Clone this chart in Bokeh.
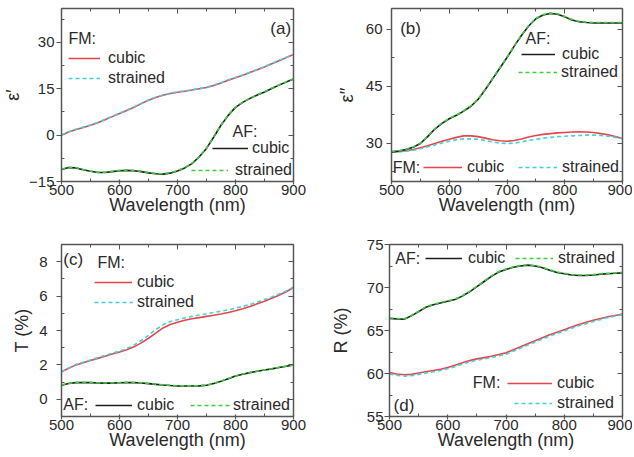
from bokeh.plotting import figure
from bokeh.layouts import column, row
from bokeh.models import (LinearAxis, FixedTicker, Legend, LegendItem, Label, Range1d,
                          CustomLabelingPolicy)
from bokeh.core.properties import value
from bokeh.embed import file_html
from bokeh.resources import INLINE

# ---------------- data ----------------
wavelength = [500, 512.5, 525, 537.5, 550, 562.5, 575, 587.5, 600, 612.5, 625, 637.5, 650, 662.5,
              675, 687.5, 700, 712.5, 725, 737.5, 750, 762.5, 775, 787.5, 800, 812.5, 825, 837.5,
              850, 862.5, 875, 887.5, 900]

eps1_fm_cubic = [0.0, 1.0, 1.8, 2.5, 3.2, 4.0, 5.0, 6.0, 7.0, 8.0, 9.0, 10.2, 11.3, 12.2, 12.9, 13.5,
                 13.9, 14.2, 14.6, 15.0, 15.4, 16.1, 16.9, 17.8, 18.6, 19.4, 20.3, 21.2, 22.1, 23.1,
                 24.1, 25.1, 26.1]
eps1_fm_strained = [0.1, 1.1, 1.9, 2.6, 3.3, 4.1, 5.1, 6.1, 7.1, 8.1, 9.1, 10.3, 11.4, 12.3, 13.0, 13.6,
                    14.0, 14.3, 14.7, 15.1, 15.5, 16.2, 17.0, 17.9, 18.7, 19.5, 20.4, 21.3, 22.2, 23.2,
                    24.2, 25.2, 26.1]
eps1_af_cubic = [-11.1, -10.5, -10.6, -11.2, -11.7, -12.1, -12.1, -11.8, -11.5, -11.4, -11.5, -11.8,
                 -12.2, -12.5, -12.6, -12.3, -11.6, -10.6, -9.2, -7.0, -4.3, -0.6, 3.2, 6.4, 9.0,
                 10.6, 11.9, 13.0, 14.0, 15.1, 16.2, 17.2, 18.2]
eps1_af_strained = [-11.0, -10.4, -10.5, -11.1, -11.6, -12.0, -12.0, -11.7, -11.4, -11.3, -11.4, -11.7,
                    -12.1, -12.4, -12.5, -12.2, -11.5, -10.5, -9.1, -6.9, -4.2, -0.5, 3.3, 6.5, 9.1,
                    10.7, 12.0, 13.1, 14.1, 15.2, 16.3, 17.3, 18.2]

eps2_fm_cubic = [27.8, 27.9, 28.1, 28.4, 28.9, 29.4, 30.0, 30.6, 31.1, 31.6, 32.0, 32.0, 31.8, 31.4,
                 31.0, 30.7, 30.6, 30.8, 31.2, 31.7, 32.1, 32.4, 32.6, 32.8, 32.9, 33.0, 33.1, 33.0,
                 32.9, 32.6, 32.3, 31.8, 31.3]
eps2_fm_strained = [27.7, 27.8, 28.0, 28.2, 28.6, 29.1, 29.6, 30.1, 30.6, 31.0, 31.2, 31.2, 31.1, 30.8,
                    30.4, 30.1, 30.0, 30.1, 30.4, 30.8, 31.1, 31.4, 31.6, 31.8, 31.9, 32.0, 32.1, 32.2,
                    32.2, 32.1, 31.9, 31.6, 31.3]
eps2_af_cubic = [27.8, 28.0, 28.4, 29.0, 30.0, 31.8, 33.8, 35.3, 36.5, 37.4, 38.5, 39.8, 41.6, 44.2,
                 47.0, 49.8, 52.6, 55.6, 58.4, 60.9, 62.8, 63.8, 64.2, 64.0, 63.3, 62.5, 62.0, 61.8,
                 61.7, 61.7, 61.7, 61.7, 61.7]
eps2_af_strained = [27.9, 28.1, 28.5, 29.1, 30.1, 31.9, 33.9, 35.4, 36.6, 37.5, 38.6, 39.9, 41.7, 44.3,
                    47.1, 49.9, 52.7, 55.7, 58.5, 61.0, 62.9, 63.9, 64.3, 64.1, 63.4, 62.6, 62.1, 61.9,
                    61.8, 61.8, 61.8, 61.8, 61.8]

T_fm_cubic = [1.6, 1.8, 2.0, 2.12, 2.25, 2.38, 2.5, 2.63, 2.75, 2.88, 3.05, 3.28, 3.55, 3.85, 4.15,
              4.35, 4.48, 4.6, 4.68, 4.75, 4.82, 4.89, 4.96, 5.05, 5.15, 5.27, 5.4, 5.55, 5.7, 5.87,
              6.05, 6.25, 6.5]
T_fm_strained = [1.6, 1.82, 2.03, 2.16, 2.29, 2.42, 2.55, 2.68, 2.8, 2.95, 3.15, 3.42, 3.72, 4.05,
                 4.33, 4.52, 4.63, 4.73, 4.82, 4.9, 4.97, 5.05, 5.12, 5.2, 5.3, 5.4, 5.52, 5.65, 5.8,
                 5.95, 6.12, 6.3, 6.52]
T_af_cubic = [0.82, 0.92, 0.97, 0.98, 0.97, 0.95, 0.94, 0.94, 0.96, 0.98, 0.97, 0.95, 0.91, 0.87,
              0.83, 0.8, 0.78, 0.77, 0.77, 0.78, 0.82, 0.92, 1.05, 1.2, 1.35, 1.46, 1.55, 1.63, 1.7,
              1.77, 1.85, 1.92, 2.0]
T_af_strained = [0.83, 0.93, 0.98, 0.99, 0.98, 0.96, 0.95, 0.95, 0.97, 0.99, 0.98, 0.96, 0.92, 0.88,
                 0.84, 0.81, 0.79, 0.78, 0.78, 0.79, 0.83, 0.93, 1.06, 1.21, 1.36, 1.47, 1.56, 1.64,
                 1.71, 1.78, 1.86, 1.93, 2.0]

R_fm_cubic = [60.1, 59.95, 59.85, 59.9, 60.05, 60.2, 60.35, 60.5, 60.7, 60.95, 61.25, 61.5, 61.7,
              61.85, 62.0, 62.2, 62.4, 62.75, 63.1, 63.45, 63.8, 64.15, 64.5, 64.8, 65.1, 65.4, 65.7,
              65.95, 66.2, 66.4, 66.6, 66.75, 66.9]
R_fm_strained = [59.95, 59.8, 59.7, 59.75, 59.9, 60.05, 60.2, 60.35, 60.55, 60.8, 61.1, 61.35, 61.55,
                 61.7, 61.85, 62.05, 62.25, 62.6, 62.95, 63.3, 63.65, 64.0, 64.35, 64.65, 64.95,
                 65.25, 65.55, 65.8, 66.05, 66.28, 66.5, 66.68, 66.85]
R_af_cubic = [66.4, 66.35, 66.3, 66.7, 67.2, 67.7, 68.0, 68.2, 68.4, 68.6, 69.0, 69.5, 70.1, 70.7,
              71.3, 71.8, 72.1, 72.35, 72.5, 72.6, 72.5, 72.3, 72.0, 71.75, 71.6, 71.45, 71.4, 71.4,
              71.45, 71.55, 71.6, 71.65, 71.7]
R_af_strained = [66.45, 66.4, 66.35, 66.75, 67.25, 67.75, 68.05, 68.25, 68.45, 68.65, 69.05, 69.55,
                 70.15, 70.75, 71.35, 71.85, 72.15, 72.4, 72.55, 72.65, 72.55, 72.35, 72.05, 71.8,
                 71.65, 71.5, 71.45, 71.45, 71.5, 71.6, 71.65, 71.7, 71.75]

x_ticks = [500, 600, 700, 800, 900]
x_minor = [550, 650, 750, 850]
eps1_ticks, eps1_minor = [-15, 0, 15, 30], [-7.5, 7.5, 22.5, 37.5]
eps2_ticks, eps2_minor = [30, 45, 60], [22.5, 37.5, 52.5]
T_ticks, T_minor = [0, 2, 4, 6, 8], [-1, 1, 3, 5, 7, 9]
R_ticks, R_minor = [55, 60, 65, 70, 75], [57.5, 62.5, 67.5, 72.5]

# ---------------- style ----------------
FONT = "Liberation Sans"
TXT = "#2a2a2a"
AXC = "#555555"
RED = "#e8454a"
CYAN = "#3fd0e2"
BLACK = "#1e1e1e"
GREEN = "#3ccf3c"
LW = 1.6
DASH = "4 3"


def style_axis(ax, ticks, minor, label, tick_out, tick_in, lab_standoff, title_standoff):
    ax.ticker = FixedTicker(ticks=ticks, minor_ticks=minor)
    ax.axis_label = label
    ax.axis_label_text_font = FONT
    ax.axis_label_text_font_size = "18px"
    ax.axis_label_text_font_style = "normal"
    ax.axis_label_text_color = TXT
    ax.axis_label_standoff = title_standoff
    ax.major_label_text_font = FONT
    ax.major_label_text_font_size = "15px"
    ax.major_label_text_color = TXT
    ax.major_label_standoff = lab_standoff
    ax.axis_line_color = AXC
    ax.axis_line_width = 1.5
    ax.major_tick_line_color = AXC
    ax.minor_tick_line_color = AXC
    ax.major_tick_line_width = 1.2
    ax.major_tick_out = tick_out
    ax.major_tick_in = tick_in
    ax.minor_tick_out = 0
    ax.minor_tick_in = 3


def mirror_axis(p, ticks, minor, side):
    ax = LinearAxis(ticker=FixedTicker(ticks=ticks, minor_ticks=minor),
                    major_label_policy=CustomLabelingPolicy(
                        code="for (const i of Array.from(indices)) { indices.unset(i) }"))
    ax.major_label_text_font_size = "0px"
    ax.major_label_standoff = 0
    ax.axis_label_standoff = 0
    ax.axis_line_color = AXC
    ax.axis_line_width = 1.5
    ax.major_tick_line_color = AXC
    ax.minor_tick_line_color = AXC
    ax.major_tick_out = 0
    ax.major_tick_in = 5
    ax.minor_tick_out = 0
    ax.minor_tick_in = 3
    p.add_layout(ax, side)


def make_fig(yr, yt, ym, ylabel, bl, br, bt, bb, fw, fh, ylab_standoff, ytitle_standoff):
    p = figure(output_backend="svg", toolbar_location=None,
               x_range=Range1d(500, 900), y_range=Range1d(*yr),
               frame_width=fw, frame_height=fh,
               min_border_left=bl, min_border_right=br,
               min_border_top=bt, min_border_bottom=bb)
    p.xgrid.visible = False
    p.ygrid.visible = False
    p.outline_line_color = AXC
    p.background_fill_color = "white"
    p.border_fill_color = "white"
    style_axis(p.xaxis[0], x_ticks, x_minor, "Wavelength (nm)", 3, 2, 0, -3)
    style_axis(p.yaxis[0], yt, ym, ylabel, 5, 0, ylab_standoff, ytitle_standoff)
    mirror_axis(p, x_ticks, x_minor, "above")
    mirror_axis(p, yt, ym, "right")
    return p


def key(p, r, text, x, y, gw, standoff):
    leg = Legend(items=[LegendItem(label=value(text), renderers=[r])],
                 location=(x, y), padding=0, margin=0, spacing=0,
                 glyph_width=gw, glyph_height=16, label_height=16,
                 label_standoff=standoff,
                 label_text_font=FONT, label_text_font_size="16px",
                 label_text_color=TXT,
                 background_fill_alpha=0, border_line_alpha=0)
    p.add_layout(leg)


def note(p, x, y, text, size="16px"):
    p.add_layout(Label(x=x, y=y, text=text, text_font=FONT, text_font_size=size,
                       text_color=TXT, text_baseline="middle", text_align="left"))


def pair(p, ys_solid, ys_dash, c_solid, c_dash):
    a = p.line(wavelength, ys_solid, line_color=c_solid, line_width=LW)
    b = p.line(wavelength, ys_dash, line_color=c_dash, line_width=LW, line_dash=DASH)
    return a, b


# ---------------- (a) ----------------
pa = make_fig((-15, 41), eps1_ticks, eps1_minor, "ε′", 61, 20, 8, 52, 232, 173, 2, 3)
fa1, fa2 = pair(pa, eps1_fm_cubic, eps1_fm_strained, RED, CYAN)
aa1, aa2 = pair(pa, eps1_af_cubic, eps1_af_strained, BLACK, GREEN)
note(pa, 512, 31.2, "FM:")
key(pa, fa1, "cubic", 7, 114, 32, 8)
key(pa, fa2, "strained", 7, 94, 32, 8)
note(pa, 795, 1.3, "AF:")
key(pa, aa1, "cubic", 151, 24, 36, 4)
key(pa, aa2, "strained", 130, 2, 37, 7)
note(pa, 860, 34.6, "(a)", "17px")

# ---------------- (b) ----------------
pb = make_fig((20, 65.5), eps2_ticks, eps2_minor, "ε′′", 78, 10, 8, 52, 231, 173, 4, 6)
fb1, fb2 = pair(pb, eps2_fm_cubic, eps2_fm_strained, RED, CYAN)
ab1, ab2 = pair(pb, eps2_af_cubic, eps2_af_strained, BLACK, GREEN)
note(pb, 732, 57.6, "AF:")
key(pb, ab1, "cubic", 130, 118, 34, 7)
key(pb, ab2, "strained", 127, 100, 39, 4)
note(pb, 502, 23.6, "FM:")
key(pb, fb1, "cubic", 32, 5, 39, 5)
key(pb, fb2, "strained", 127, 5, 39, 5)
note(pb, 515, 60.2, "(b)", "17px")

# ---------------- (c) ----------------
pc = make_fig((-1, 9), T_ticks, T_minor, "T (%)", 61, 20, 11, 38, 232, 172, 9, 4)
fc1, fc2 = pair(pc, T_fm_cubic, T_fm_strained, RED, CYAN)
ac1, ac2 = pair(pc, T_af_cubic, T_af_strained, BLACK, GREEN)
note(pc, 503, 8.1, "(c)", "17px")
note(pc, 562, 7.96, "FM:")
key(pc, fc1, "cubic", 33, 125, 38, 5)
key(pc, fc2, "strained", 33, 105, 39, 4)
note(pc, 503, -0.3, "AF:")
key(pc, ac1, "cubic", 34, 2, 37, 5)
key(pc, ac2, "strained", 129, 2, 40, 3)

# ---------------- (d) ----------------
pd = make_fig((55, 75), R_ticks, R_minor, "R (%)", 76, 10, 11, 38, 233, 172, 1, 13)
fd1, fd2 = pair(pd, R_fm_cubic, R_fm_strained, RED, CYAN)
ad1, ad2 = pair(pd, R_af_cubic, R_af_strained, BLACK, GREEN)
note(pd, 510, 73.4, "AF:")
key(pd, ad1, "cubic", 36, 149, 37, 6)
key(pd, ad2, "strained", 126, 149, 38, 5)
note(pd, 643, 58.9, "FM:")
key(pd, fd1, "cubic", 118, 24, 45, 5)
key(pd, fd2, "strained", 125, 4, 38, 5)
note(pd, 507, 56.3, "(d)", "17px")

layout = column(row(pa, pb), row(pc, pd))
open("out.html", "w").write(file_html(layout, INLINE))
